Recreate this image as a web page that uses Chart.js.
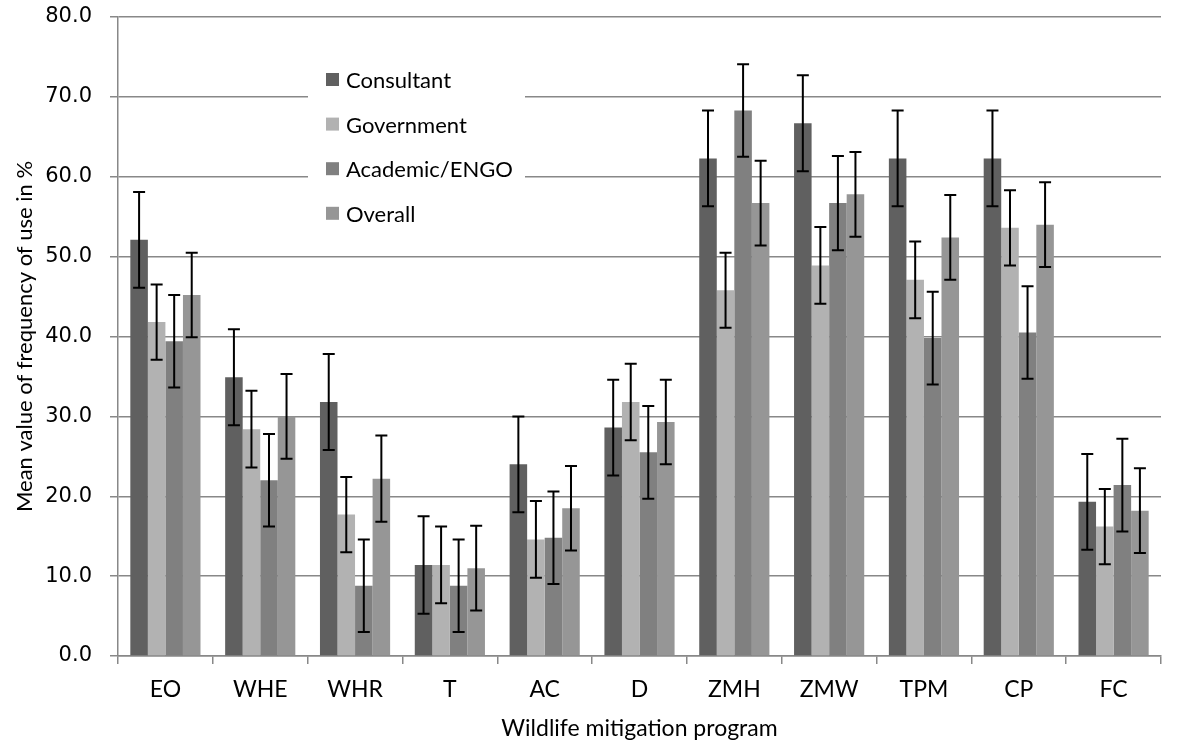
<!DOCTYPE html>
<html>
<head>
<meta charset="utf-8">
<script src="https://cdn.jsdelivr.net/npm/chart.js@4"></script>
<style>
  html, body { margin: 0; padding: 0; background: #fff; }
  #wrap { width: 1181px; height: 744px; }
</style>
</head>
<body>
<div id="wrap"><canvas id="chart" width="1181" height="744"></canvas></div>
<script>
// categories
const programs = ["EO", "WHE", "WHR", "T", "AC", "D", "ZMH", "ZMW", "TPM", "CP", "FC"];

// mean values (%)
const consultant = [52.1, 34.9, 31.8, 11.4, 24.0, 28.6, 62.3, 66.7, 62.3, 62.3, 19.3];
const government = [41.8, 28.4, 17.7, 11.4, 14.6, 31.8, 45.8, 48.9, 47.1, 53.6, 16.2];
const academic   = [39.4, 22.0, 8.8, 8.8, 14.8, 25.5, 68.3, 56.7, 39.8, 40.5, 21.4];
const overall    = [45.2, 30.0, 22.2, 11.0, 18.5, 29.3, 56.7, 57.8, 52.4, 54.0, 18.2];

// error bar half-widths
const consultantErr = [6.0, 6.0, 6.0, 6.1, 6.0, 6.0, 6.0, 6.0, 6.0, 6.0, 6.0];
const governmentErr = [4.7, 4.8, 4.7, 4.8, 4.8, 4.8, 4.7, 4.8, 4.8, 4.7, 4.7];
const academicErr   = [5.8, 5.8, 5.8, 5.8, 5.8, 5.8, 5.8, 5.9, 5.8, 5.8, 5.8];
const overallErr    = [5.3, 5.3, 5.4, 5.3, 5.3, 5.3, 5.3, 5.3, 5.3, 5.3, 5.3];

const yTicks = [0, 10, 20, 30, 40, 50, 60, 70, 80];

const font = "Lato, 'Open Sans', sans-serif";
const tickFont = "'DejaVu Sans', Verdana, sans-serif";

// error bars drawn from the y scale
const errorBars = {
    id: 'errorBars',
    afterDatasetsDraw(chart) {
        const ctx = chart.ctx;
        const y = chart.scales.y;
        ctx.save();
        ctx.strokeStyle = '#000';
        ctx.lineWidth = 2;
        chart.data.datasets.forEach((ds, di) => {
            const meta = chart.getDatasetMeta(di);
            meta.data.forEach((bar, i) => {
                const v = ds.data[i], e = ds.errors[i];
                const top = y.getPixelForValue(v + e);
                const bot = y.getPixelForValue(v - e);
                ctx.beginPath();
                ctx.moveTo(bar.x, top); ctx.lineTo(bar.x, bot);
                ctx.moveTo(bar.x - 6, top); ctx.lineTo(bar.x + 6, top);
                ctx.moveTo(bar.x - 6, bot); ctx.lineTo(bar.x + 6, bot);
                ctx.stroke();
            });
        });
        ctx.restore();
    }
};

// legend box inside the plot, over the gridlines
const insideLegend = {
    id: 'insideLegend',
    beforeDatasetsDraw(chart) {
        const ctx = chart.ctx;
        ctx.save();
        ctx.fillStyle = '#fff';
        ctx.fillRect(308, 56, 217, 180);
        ctx.font = "22px " + font;
        ctx.textBaseline = 'middle';
        chart.data.datasets.forEach((ds, i) => {
            const cy = 80 + i * 44.6;
            ctx.fillStyle = ds.backgroundColor;
            ctx.fillRect(326, cy - 7, 13, 13);
            ctx.fillStyle = '#000';
            ctx.fillText(ds.label, 346, cy + 1);
        });
        ctx.restore();
    }
};

const ctx = document.getElementById('chart').getContext('2d');
new Chart(ctx, {
    type: 'bar',
    data: {
        labels: programs,
        datasets: [
            { label: 'Consultant', data: consultant, errors: consultantErr, backgroundColor: '#606060' },
            { label: 'Government', data: government, errors: governmentErr, backgroundColor: '#b2b2b2' },
            { label: 'Academic/ENGO', data: academic, errors: academicErr, backgroundColor: '#808080' },
            { label: 'Overall', data: overall, errors: overallErr, backgroundColor: '#969696' }
        ]
    },
    options: {
        responsive: false,
        animation: false,
        layout: { padding: { top: 17, right: 20, left: 0, bottom: 0 } },
        datasets: { bar: { categoryPercentage: 0.74, barPercentage: 1 } },
        plugins: {
            legend: { display: false },
            tooltip: { enabled: false }
        },
        scales: {
            x: {
                grid: { drawOnChartArea: false, drawTicks: true, tickLength: 8, color: '#888', lineWidth: 1.5 },
                border: { color: '#888', width: 1.5 },
                ticks: { color: '#000', font: { family: font, size: 23 }, padding: 12 },
                title: { display: true, text: 'Wildlife mitigation program', color: '#000', font: { family: font, size: 23 }, padding: { top: 2, bottom: 2 } },
                afterFit: s => { s.height = 88; s.paddingLeft = 0; s.paddingRight = 0; }
            },
            y: {
                min: 0, max: 80,
                afterBuildTicks: s => { s.ticks = yTicks.map(v => ({ value: v })); },
                grid: { color: '#888', lineWidth: 1.5, tickLength: 8 },
                border: { color: '#888', width: 1.5 },
                ticks: { color: '#000', font: { family: tickFont, size: 21 }, padding: 18, callback: v => v.toFixed(1) },
                title: { display: true, text: 'Mean value of frequency of use in %', color: '#000', font: { family: font, size: 22 }, padding: { top: 12, bottom: 6 } },
                afterFit: s => { s.width = 118; s.paddingTop = 0; s.paddingBottom = 0; }
            }
        }
    },
    plugins: [insideLegend, errorBars]
});
</script>
</body>
</html>
